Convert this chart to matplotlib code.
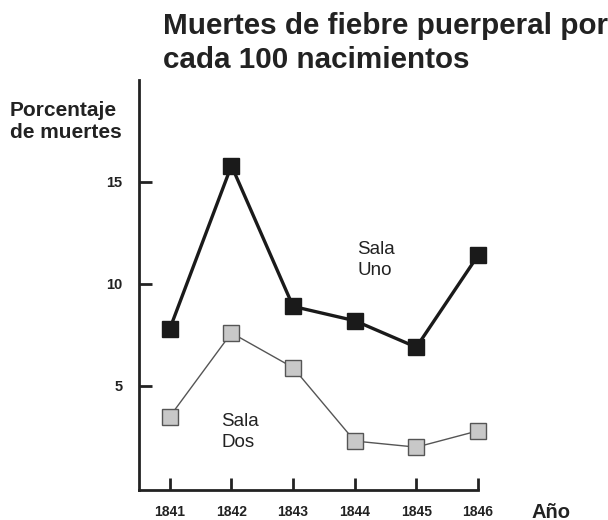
import matplotlib
matplotlib.use("Agg")
import matplotlib.pyplot as plt

plt.rcParams['font.family'] = ['Liberation Sans', 'DejaVu Sans']

years = [1841, 1842, 1843, 1844, 1845, 1846]
sala_uno = [7.8, 15.8, 8.9, 8.2, 6.9, 11.4]
sala_dos = [3.5, 7.6, 5.9, 2.3, 2.0, 2.8]
yticks = [5, 10, 15]

fig = plt.figure(figsize=(6.08, 5.2), dpi=100)
ax = fig.add_axes([0.2286, 0.0577, 0.5576, 0.7885])

ax.plot(years, sala_dos, color="#555555", lw=1.0, marker="s", ms=12,
        mfc="#c8c8c8", mec="#555555", mew=1.0, zorder=3, clip_on=False)
ax.plot(years, sala_uno, color="#1a1a1a", lw=2.4, marker="s", ms=12,
        mfc="#1a1a1a", mec="#1a1a1a", mew=1.0, zorder=4, clip_on=False)

ax.set_xlim(1840.5, 1846)
ax.set_ylim(-0.1, 20)
ax.set_xticks(years)
ax.set_yticks(yticks)
ax.set_xticklabels([str(y) for y in years], fontsize=10, fontweight="bold")
ax.set_yticklabels([str(v) for v in yticks], fontsize=10.5, fontweight="bold")
ax.tick_params(direction="in", length=9, width=2, colors="#222222")
ax.tick_params(axis="y", pad=12)
ax.tick_params(axis="x", pad=11)
for side in ("top", "right"):
    ax.spines[side].set_visible(False)
for side in ("left", "bottom"):
    ax.spines[side].set_linewidth(2)
    ax.spines[side].set_color("#222222")

# baseline of the last line sits at the given y
ax.text(1844.04, 10.44, "Sala\nUno", fontsize=13.5, color="#222222",
        ha="left", va="baseline", linespacing=1.34)
ax.text(1841.84, 2.0, "Sala\nDos", fontsize=13.5, color="#222222",
        ha="left", va="baseline", linespacing=1.34)

fig.text(163 / 608, 1 - 12 / 520,
         "Muertes de fiebre puerperal por\ncada 100 nacimientos",
         fontsize=21.3, fontweight="bold", color="#222222", ha="left", va="top",
         linespacing=1.25)
fig.text(10 / 608, 1 - 101 / 520, "Porcentaje\nde muertes", fontsize=15,
         fontweight="bold", color="#222222", ha="left", va="top",
         linespacing=1.2)
fig.text(532 / 608, 1 - 512 / 520, "Año", fontsize=14.5, fontweight="bold",
         color="#222222", ha="left", va="center")

fig.savefig("out.png", dpi=100)
